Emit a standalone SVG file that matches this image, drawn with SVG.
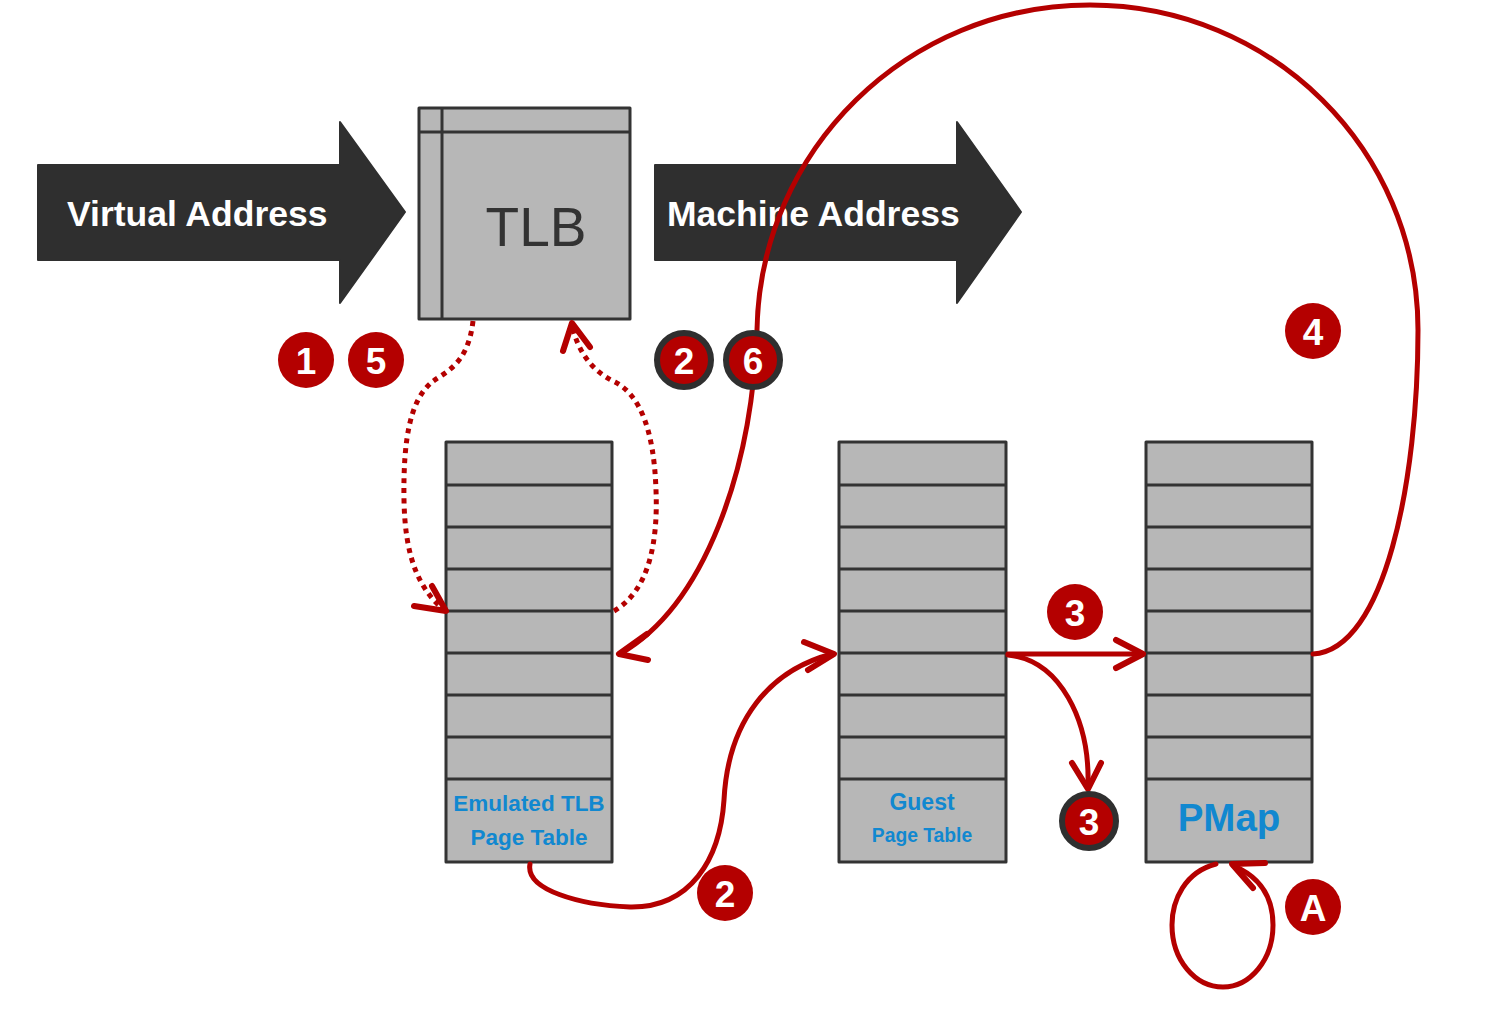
<svg xmlns="http://www.w3.org/2000/svg" width="1488" height="1016" viewBox="0 0 1488 1016">
<style>
.bigarrow{fill:#2f2f2f;stroke:#2f2f2f;stroke-width:2;stroke-linejoin:round}
.arrowtext{font-family:"Liberation Sans",Arial,sans-serif;font-weight:bold;font-size:35.5px;fill:#ffffff}
.box{fill:#b7b7b7;stroke:#333333;stroke-width:3;stroke-linejoin:round}
.rule{stroke:#333333;stroke-width:3}
.lbl{font-family:"Liberation Sans",Arial,sans-serif;font-weight:bold;fill:#1188d0;text-anchor:middle}
.conn{fill:none;stroke:#b40000;stroke-width:5;stroke-linecap:round;stroke-linejoin:round}
.dot{fill:none;stroke:#b40000;stroke-width:5;stroke-dasharray:5 5}
.head{fill:none;stroke:#b40000;stroke-width:6;stroke-linecap:round;stroke-linejoin:round}
.badge{fill:#b40000}
.badge2{fill:#b40000;stroke:#2f2f2f;stroke-width:6}
.num{font-family:"Liberation Sans",Arial,sans-serif;font-weight:bold;font-size:37px;fill:#ffffff;text-anchor:middle}
</style>
<g id="virtual-address">
<polygon class="bigarrow" points="38,165 340,165 340,122 405,212 340,303 340,260 38,260"/>
<text class="arrowtext" x="67" y="226">Virtual Address</text>
</g>
<g id="machine-address">
<polygon class="bigarrow" points="655,165 957,165 957,122 1021,212 957,303 957,260 655,260"/>
<text class="arrowtext" x="667" y="226">Machine Address</text>
</g>
<g id="tlb">
<rect class="box" x="419" y="108" width="211" height="211"/>
<line class="rule" x1="419" y1="132" x2="630" y2="132"/>
<line class="rule" x1="442" y1="108" x2="442" y2="319"/>
<text x="536" y="246" font-family="Liberation Sans,Arial,sans-serif" font-size="55" fill="#333333" text-anchor="middle">TLB</text>
</g>
<g id="emulated-tlb-page-table">
<rect class="box" x="446" y="442" width="166" height="420"/>
<g class="rule">
<line x1="446" y1="485" x2="612" y2="485"/><line x1="446" y1="527" x2="612" y2="527"/><line x1="446" y1="569" x2="612" y2="569"/><line x1="446" y1="611" x2="612" y2="611"/><line x1="446" y1="653" x2="612" y2="653"/><line x1="446" y1="695" x2="612" y2="695"/><line x1="446" y1="737" x2="612" y2="737"/><line x1="446" y1="779" x2="612" y2="779"/>
</g>
<text class="lbl" x="529" y="811" font-size="22.5">Emulated TLB</text>
<text class="lbl" x="529" y="845" font-size="22.5">Page Table</text>
</g>
<g id="guest-page-table">
<rect class="box" x="839" y="442" width="167" height="420"/>
<g class="rule">
<line x1="839" y1="485" x2="1006" y2="485"/><line x1="839" y1="527" x2="1006" y2="527"/><line x1="839" y1="569" x2="1006" y2="569"/><line x1="839" y1="611" x2="1006" y2="611"/><line x1="839" y1="653" x2="1006" y2="653"/><line x1="839" y1="695" x2="1006" y2="695"/><line x1="839" y1="737" x2="1006" y2="737"/><line x1="839" y1="779" x2="1006" y2="779"/>
</g>
<text class="lbl" x="922" y="810" font-size="23">Guest</text>
<text class="lbl" x="922" y="842" font-size="19.3">Page Table</text>
</g>
<g id="pmap">
<rect class="box" x="1146" y="442" width="166" height="420"/>
<g class="rule">
<line x1="1146" y1="485" x2="1312" y2="485"/><line x1="1146" y1="527" x2="1312" y2="527"/><line x1="1146" y1="569" x2="1312" y2="569"/><line x1="1146" y1="611" x2="1312" y2="611"/><line x1="1146" y1="653" x2="1312" y2="653"/><line x1="1146" y1="695" x2="1312" y2="695"/><line x1="1146" y1="737" x2="1312" y2="737"/><line x1="1146" y1="779" x2="1312" y2="779"/>
</g>
<text class="lbl" x="1229" y="831" font-size="38.5">PMap</text>
</g>
<g id="connectors">
<path class="dot" d="M 473 321 C 468 365 445 372 432 382 C 410 400 403 440 404 500 C 405 560 420 590 445 611"/>
<polyline class="head" points="432,586 446,611 414,606"/>
<path class="dot" d="M 614 611 C 650 590 658 540 656 490 C 654 430 640 395 615 382 C 590 370 578 350 572 326"/>
<polyline class="head" points="563,351 572,323 590,347"/>
<path class="conn" d="M 1313 654 C 1385 650 1418 480 1418 330 C 1418 150 1272 5 1090 5 C 907 5 760 150 757 330 C 752 470 705 605 620 654"/>
<polyline class="head" points="647,634 619,654 648,660"/>
<path class="conn" d="M 530 864 C 525 890 580 905 630 907 C 690 908 720 860 724 800 C 728 720 770 670 832 654"/>
<polyline class="head" points="804,642 834,654 808,670"/>
<path class="conn" d="M 1008 654 L 1141 654"/>
<polyline class="head" points="1116,640 1143,654 1116,668"/>
<path class="conn" d="M 1008 655 C 1060 660 1090 720 1088 786"/>
<polyline class="head" points="1072,763 1088,789 1101,763"/>
<path class="conn" d="M 1216 864 C 1185 872 1172 900 1172 925 C 1172 960 1195 987 1223 987 C 1250 987 1273 960 1273 925 C 1273 900 1262 878 1234 866"/>
<polyline class="head" points="1265,863 1232,864 1253,888"/>
</g>
<g id="badge-1"><circle class="badge" cx="306" cy="360" r="28"/><text class="num" x="306" y="374">1</text></g>
<g id="badge-5"><circle class="badge" cx="376" cy="360" r="28"/><text class="num" x="376" y="374">5</text></g>
<g id="badge-2a"><circle class="badge2" cx="684" cy="360" r="27"/><text class="num" x="684" y="374">2</text></g>
<g id="badge-6"><circle class="badge2" cx="753" cy="360" r="27"/><text class="num" x="753" y="374">6</text></g>
<g id="badge-4"><circle class="badge" cx="1313" cy="331" r="28"/><text class="num" x="1313" y="345">4</text></g>
<g id="badge-3a"><circle class="badge" cx="1075" cy="612" r="28"/><text class="num" x="1075" y="626">3</text></g>
<g id="badge-3b"><circle class="badge2" cx="1089" cy="821" r="27"/><text class="num" x="1089" y="835">3</text></g>
<g id="badge-2b"><circle class="badge" cx="725" cy="893" r="28"/><text class="num" x="725" y="907">2</text></g>
<g id="badge-A"><circle class="badge" cx="1313" cy="907" r="28"/><text class="num" x="1313" y="921">A</text></g>
</svg>
